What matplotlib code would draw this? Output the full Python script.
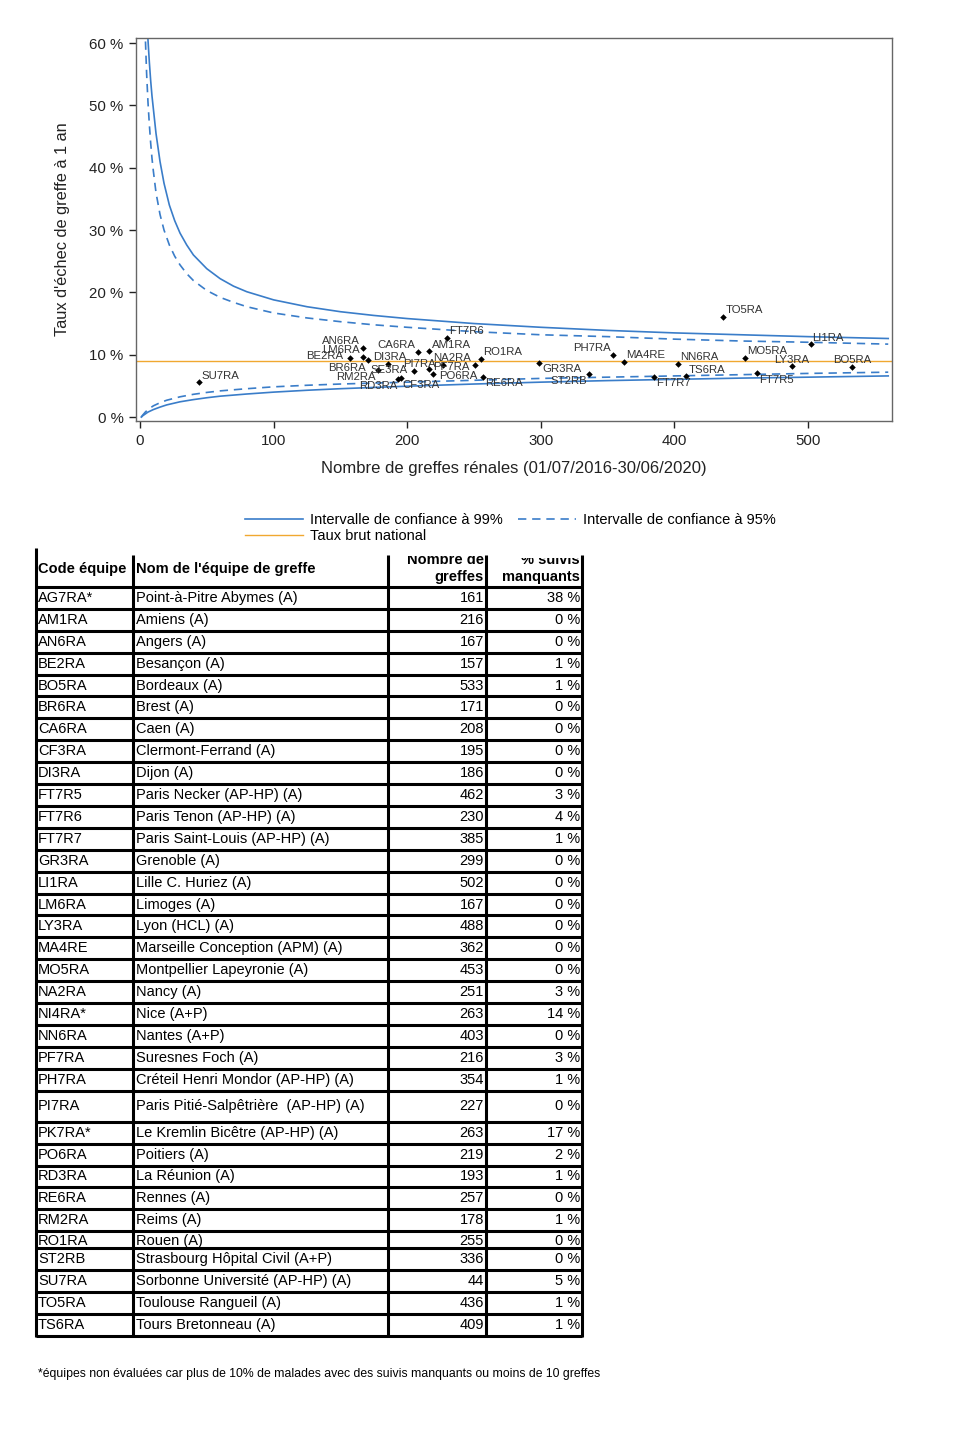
"""
Funnel plot of 1-year graft failure rate per transplant team, with the
team table underneath. Writes out.png (976x1440).
"""
import matplotlib
matplotlib.use("Agg")
import matplotlib.pyplot as plt
from matplotlib.patches import Rectangle
from matplotlib.ticker import FuncFormatter, MultipleLocator

plt.rcParams["font.family"] = ["Liberation Sans", "DejaVu Sans"]

# ─────────────────────────────────────────────────────────────────────────────
# Table data
# ─────────────────────────────────────────────────────────────────────────────
codes = [
    "AG7RA*", "AM1RA", "AN6RA", "BE2RA", "BO5RA", "BR6RA", "CA6RA", "CF3RA",
    "DI3RA", "FT7R5", "FT7R6", "FT7R7", "GR3RA", "LI1RA", "LM6RA", "LY3RA",
    "MA4RE", "MO5RA", "NA2RA", "NI4RA*", "NN6RA", "PF7RA", "PH7RA", "PI7RA",
    "PK7RA*", "PO6RA", "RD3RA", "RE6RA", "RM2RA", "RO1RA", "ST2RB", "SU7RA",
    "TO5RA", "TS6RA",
]
names = [
    "Point-à-Pitre Abymes (A)", "Amiens (A)", "Angers (A)", "Besançon (A)",
    "Bordeaux (A)", "Brest (A)", "Caen (A)", "Clermont-Ferrand (A)",
    "Dijon (A)", "Paris Necker (AP-HP) (A)", "Paris Tenon (AP-HP) (A)",
    "Paris Saint-Louis (AP-HP) (A)", "Grenoble (A)", "Lille C. Huriez (A)",
    "Limoges (A)", "Lyon (HCL) (A)", "Marseille Conception (APM) (A)",
    "Montpellier Lapeyronie (A)", "Nancy (A)", "Nice (A+P)", "Nantes (A+P)",
    "Suresnes Foch (A)", "Créteil Henri Mondor (AP-HP) (A)",
    "Paris Pitié-Salpêtrière  (AP-HP) (A)", "Le Kremlin Bicêtre (AP-HP) (A)",
    "Poitiers (A)", "La Réunion (A)", "Rennes (A)", "Reims (A)", "Rouen (A)",
    "Strasbourg Hôpital Civil (A+P)", "Sorbonne Université (AP-HP) (A)",
    "Toulouse Rangueil (A)", "Tours Bretonneau (A)",
]
n_greffes = [
    161, 216, 167, 157, 533, 171, 208, 195, 186, 462, 230, 385, 299, 502,
    167, 488, 362, 453, 251, 263, 403, 216, 354, 227, 263, 219, 193, 257,
    178, 255, 336, 44, 436, 409,
]
pct_missing = [
    38, 0, 0, 1, 1, 0, 0, 0, 0, 3, 4, 1, 0, 0, 0, 0, 0, 0, 3, 14, 0, 3, 1, 0,
    17, 2, 1, 0, 1, 0, 0, 5, 1, 1,
]

# ─────────────────────────────────────────────────────────────────────────────
# Funnel plot data (rates in %)
# ─────────────────────────────────────────────────────────────────────────────
chart_codes = [
    "SU7RA", "BE2RA", "AN6RA", "LM6RA", "BR6RA", "RM2RA", "DI3RA", "RD3RA",
    "CF3RA", "SE3RA", "CA6RA", "AM1RA", "PF7RA", "PO6RA", "PI7RA", "FT7R6",
    "NA2RA", "RO1RA", "RE6RA", "GR3RA", "ST2RB", "PH7RA", "MA4RE", "FT7R7",
    "NN6RA", "TS6RA", "TO5RA", "MO5RA", "FT7R5", "LY3RA", "LI1RA", "BO5RA",
]
chart_n = [
    44, 157, 167, 167, 171, 178, 186, 193, 195, 205, 208, 216, 216, 219, 227,
    230, 251, 255, 257, 299, 336, 354, 362, 385, 403, 409, 436, 453, 462, 488,
    502, 533,
]
chart_rate = [
    5.6, 9.5, 11.0, 9.6, 9.2, 7.6, 8.5, 6.1, 6.3, 7.4, 10.5, 10.6, 7.7, 6.9,
    8.4, 12.7, 8.4, 9.3, 6.5, 8.6, 6.9, 10.0, 8.9, 6.4, 8.5, 6.6, 16.1, 9.5,
    7.0, 8.2, 11.7, 8.0,
]
national_rate = 9.0

# Control limits
upper_n = [3, 4, 5, 6, 7, 8, 9, 10, 12, 15, 18, 22, 26, 30, 35, 40, 50, 60,
           70, 80, 100, 125, 150, 175, 200, 250, 300, 350, 400, 450, 500, 560]
upper_99 = [80, 72, 65, 60.5, 57, 54, 51.5, 49.5, 45.5, 41, 37.5, 34, 31.5,
            29.5, 27.6, 26.0, 23.8, 22.2, 21.0, 20.1, 18.8, 17.7, 16.9, 16.3,
            15.8, 15.0, 14.4, 13.9, 13.5, 13.2, 12.9, 12.6]
upper_95 = [68, 61, 55, 50.5, 47, 44, 41.5, 39.5, 36, 32.5, 30, 27.6, 25.8,
            24.4, 23, 21.9, 20.3, 19.2, 18.4, 17.7, 16.7, 15.9, 15.3, 14.8,
            14.4, 13.7, 13.2, 12.9, 12.5, 12.2, 12.0, 11.7]
lower_n = [1, 2, 4, 6, 8, 10, 15, 20, 30, 40, 50, 60, 80, 100, 125, 150, 200,
           250, 300, 350, 400, 450, 500, 560]
lower_99 = [0.0, 0.2, 0.5, 0.8, 1.0, 1.2, 1.6, 1.95, 2.45, 2.8, 3.1, 3.35, 3.7,
            4.0, 4.3, 4.55, 4.95, 5.3, 5.6, 5.85, 6.05, 6.25, 6.4, 6.6]
lower_95 = [0.0, 0.3, 0.8, 1.2, 1.5, 1.8, 2.3, 2.7, 3.25, 3.65, 3.95, 4.2,
            4.55, 4.85, 5.1, 5.3, 5.6, 5.9, 6.2, 6.4, 6.6, 6.8, 7.0, 7.2]

BLUE = "#3a7dc9"
ORANGE = "#f0a830"
DASH = (0, (5, 3.5))

# label offsets (pixels) of each team code relative to its point
LABEL_OFFSET = {
    "SU7RA": (22, 6), "AN6RA": (-22, 7), "LM6RA": (-22, 7), "BE2RA": (-25, 2),
    "BR6RA": (-21, -8), "DI3RA": (1, 7), "RM2RA": (-22, -7), "SE3RA": (-25, 1),
    "RD3RA": (-20, -7), "CF3RA": (20, -7), "CA6RA": (-22, 7), "AM1RA": (23, 6),
    "PF7RA": (23, 2), "PI7RA": (-24, 1), "PO6RA": (26, -2), "FT7R6": (19, 7),
    "NA2RA": (-23, 7), "RO1RA": (22, 7), "RE6RA": (21, -6), "GR3RA": (23, -6),
    "ST2RB": (-20, -7), "PH7RA": (-21, 7), "MA4RE": (22, 7), "NN6RA": (21, 7),
    "FT7R7": (19, -6), "TS6RA": (21, 6), "TO5RA": (22, 7), "LI1RA": (17, 6),
    "MO5RA": (22, 7), "LY3RA": (0, 6), "BO5RA": (0, 7), "FT7R5": (19, -7),
}

fig = plt.figure(figsize=(9.76, 14.4), dpi=100)

# ─────────────────────────────────────────────────────────────────────────────
# Table (drawn in pixel coordinates on a full-figure axes)
# ─────────────────────────────────────────────────────────────────────────────
tax = fig.add_axes([0, 0, 1, 1])
tax.set_xlim(0, 976)
tax.set_ylim(1440, 0)
tax.axis("off")
tax.patch.set_alpha(0)

col_x = [36, 133, 388, 486, 582]
header_bottom = 587
row_h = {"PI7RA": 31.0, "RO1RA": 17.0}
default_h = 21.9
lw_tab = 2.2
fs_tab = 10.5

# header (top line of the two right-hand headers is cut off in the source)
tax.text(38, 569, "Code équipe", fontsize=fs_tab, fontweight="bold",
         ha="left", va="center")
tax.text(136, 569, "Nom de l'équipe de greffe", fontsize=fs_tab,
         fontweight="bold", ha="left", va="center")
for x, l1, l2, top in [(484, "Nombre de", "greffes", 556),
                       (580, "% suivis", "manquants", 558)]:
    t = tax.text(x, 560, l1, fontsize=fs_tab, fontweight="bold",
                 ha="right", va="center")
    t.set_clip_path(Rectangle((x - 100, top), 110, 40,
                              transform=tax.transData))
    t.set_clip_on(True)
    tax.text(x, 577.5, l2, fontsize=fs_tab, fontweight="bold",
             ha="right", va="center")

tax.plot([col_x[0], col_x[-1]], [header_bottom, header_bottom],
         color="black", lw=lw_tab, solid_capstyle="butt")

y = header_bottom
for code, name, n, pct in zip(codes, names, n_greffes, pct_missing):
    h = row_h.get(code, default_h)
    yc = y + h / 2 + (1.5 if code == "RO1RA" else 0)
    tax.text(38, yc, code, fontsize=fs_tab, ha="left", va="center")
    tax.text(136, yc, name, fontsize=fs_tab, ha="left", va="center")
    tax.text(484, yc, str(n), fontsize=fs_tab, ha="right", va="center")
    tax.text(580, yc, f"{pct} %", fontsize=fs_tab, ha="right", va="center")
    y += h
    tax.plot([col_x[0], col_x[-1]], [y, y], color="black", lw=lw_tab,
             solid_capstyle="butt")
table_bottom = y

for i, x in enumerate(col_x):
    top = 548 if i == 0 else 555
    tax.plot([x, x], [top, table_bottom + 1], color="black", lw=lw_tab,
             solid_capstyle="butt")

tax.text(38, 1374, "*équipes non évaluées car plus de 10% de malades avec des "
         "suivis manquants ou moins de 10 greffes", fontsize=8.85,
         ha="left", va="center")

# ─────────────────────────────────────────────────────────────────────────────
# Funnel plot
# ─────────────────────────────────────────────────────────────────────────────
ax = fig.add_axes([0.1393, 0.7076, 0.7746, 0.2660])
l99, = ax.plot(upper_n, upper_99, color=BLUE, lw=1.2)
ax.plot(lower_n, lower_99, color=BLUE, lw=1.2)
l95, = ax.plot(upper_n, upper_95, color=BLUE, lw=1.2, linestyle=DASH)
ax.plot(lower_n, lower_95, color=BLUE, lw=1.2, linestyle=DASH)
lnat = ax.axhline(national_rate, color=ORANGE, lw=1.0)

ax.scatter(chart_n, chart_rate, marker="D", s=11, color="black", zorder=5,
           linewidths=0)
for code, n, r in zip(chart_codes, chart_n, chart_rate):
    dx, dy = LABEL_OFFSET[code]
    ax.annotate(code, (n, r), xytext=(dx, dy), textcoords="offset pixels",
                ha="center", va="center", fontsize=8.2, color="#333333",
                zorder=6)

ax.set_xlim(-3, 562.8)
ax.set_ylim(-0.64, 60.8)
ax.xaxis.set_major_locator(MultipleLocator(100))
ax.yaxis.set_major_locator(MultipleLocator(10))
ax.yaxis.set_major_formatter(FuncFormatter(lambda v, _: f"{v:.0f} %"))
ax.tick_params(direction="out", length=5, width=1, pad=4, labelsize=10.8,
               colors="#222222")
for sp in ax.spines.values():
    sp.set_color("#666666")
    sp.set_linewidth(1.0)
ax.set_xlabel("Nombre de greffes rénales (01/07/2016-30/06/2020)",
              fontsize=12, labelpad=10, color="#222222")
ax.set_ylabel("Taux d'échec de greffe à 1 an", fontsize=11.8, labelpad=14,
              color="#222222")

fig.legend(
    [l99, lnat, l95],
    ["Intervalle de confiance à 99%", "Taux brut national",
     "Intervalle de confiance à 95%"],
    ncol=2, loc="center", bbox_to_anchor=(0.523, 0.6335), frameon=False,
    fontsize=10.5, handlelength=4.0, handletextpad=0.5, columnspacing=1.0,
    labelspacing=0.15,
)

fig.savefig("out.png", dpi=100)
plt.close(fig)
